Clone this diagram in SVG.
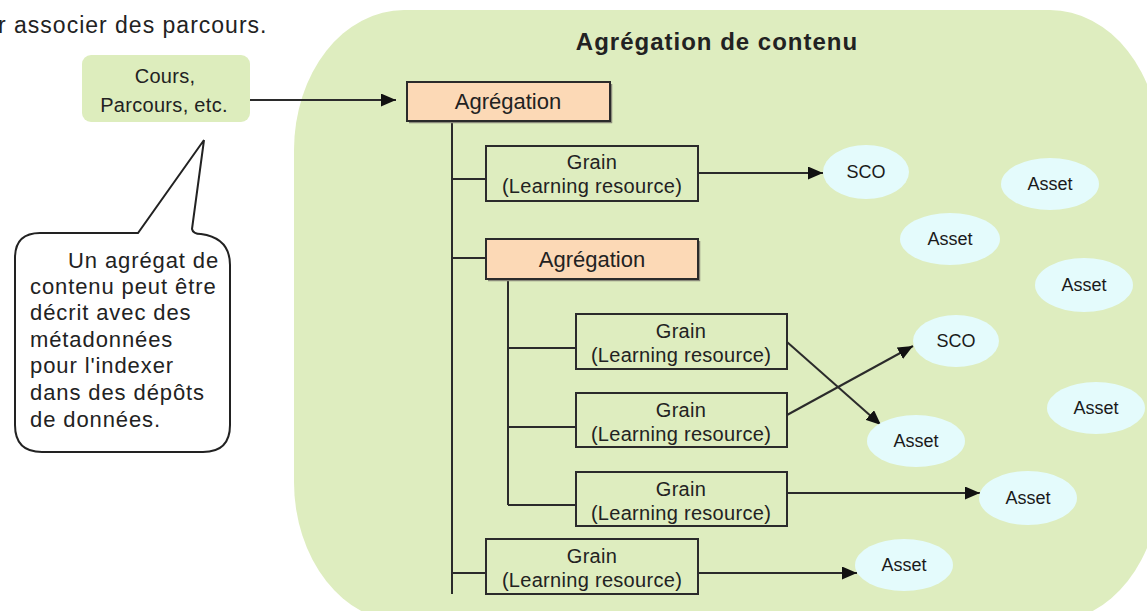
<svg xmlns="http://www.w3.org/2000/svg" width="1147" height="611" viewBox="0 0 1147 611">
<style>
.t{font-family:"Liberation Sans",Arial,sans-serif;fill:#222}
.g{font-size:20px;letter-spacing:0.3px;text-anchor:middle}
.a{font-size:22px;text-anchor:middle}
.e{font-size:18px;text-anchor:middle;fill:#1a1a1a}
.box{fill:none;stroke:#2b2b2b;stroke-width:2}
.agg{fill:#FCD9B6;stroke:#2b2b2b;stroke-width:2}
.sh{fill:none;stroke:#8a8a7a;stroke-width:1.5}
.ell{fill:#E4FBFC}
.ln{stroke:#2b2b2b;stroke-width:2;fill:none}
.b{font-size:22px;letter-spacing:0.9px}
</style>
<defs>
<marker id="arr" markerUnits="userSpaceOnUse" markerWidth="15" markerHeight="13" refX="15" refY="6.5" orient="auto">
<path d="M0,0 L15,6.5 L0,13 Z" fill="#111"/>
</marker>
</defs>
<rect width="1147" height="611" fill="#fff"/>
<text class="t" x="-2" y="33" font-size="23" letter-spacing="1">r associer des parcours.</text>

<g id="container">
<rect x="294" y="10" width="866" height="612" rx="110" ry="140" fill="#DEEDBF"/>
<text class="t" x="717" y="50" font-size="24" font-weight="bold" letter-spacing="1" text-anchor="middle">Agrégation de contenu</text>
</g>

<g id="cours">
<rect x="82" y="55" width="168" height="67" rx="9" fill="#DDEDBD"/>
<text class="t g" x="165" y="83" letter-spacing="0.8">Cours,</text>
<text class="t g" x="164" y="112" letter-spacing="0.8">Parcours, etc.</text>
</g>

<g id="callout">
<path d="M40,233 L138,233 L204,140 L192,229 Q193,234 201,234 Q230,238 230,265 L230,425 Q230,452 203,452 L42,452 Q15,452 15,425 L15,258 Q15,233 40,233 Z" fill="#fff" stroke="#222" stroke-width="2"/>
<text class="t b" x="68" y="268">Un agrégat de</text>
<text class="t b" x="30" y="294">contenu peut être</text>
<text class="t b" x="30" y="320">décrit avec des</text>
<text class="t b" x="30" y="347">métadonnées</text>
<text class="t b" x="30" y="373">pour l'indexer</text>
<text class="t b" x="30" y="400">dans des dépôts</text>
<text class="t b" x="30" y="427">de données.</text>
</g>

<g id="connectors">
<path class="ln" d="M250,100 L396,100" marker-end="url(#arr)"/>
<path class="ln" d="M452,121 V594 M452,179 H486 M452,258 H486 M452,573 H486"/>
<path class="ln" d="M508,279 V505 M508,348 H576 M508,427 H576 M508,505 H576"/>
<path class="ln" d="M698,173 L823,173" marker-end="url(#arr)"/>
<path class="ln" d="M787,342 L881,425" marker-end="url(#arr)"/>
<path class="ln" d="M787,415 L913,346" marker-end="url(#arr)"/>
<path class="ln" d="M787,493 L980,493" marker-end="url(#arr)"/>
<path class="ln" d="M698,573 L857,573" marker-end="url(#arr)"/>
</g>

<g id="agg1">
<path class="sh" d="M409,122.5 H611.5 V84"/>
<rect class="agg" x="407" y="82" width="203" height="39"/>
<text class="t a" x="508" y="109">Agrégation</text>
</g>
<g id="grain1">
<rect class="box" x="486" y="146" width="212" height="55"/>
<text class="t g" x="592" y="169">Grain</text>
<text class="t g" x="592" y="193">(Learning resource)</text>
</g>
<g id="agg2">
<path class="sh" d="M488,280.5 H699.5 V241"/>
<rect class="agg" x="486" y="239" width="212" height="40"/>
<text class="t a" x="592" y="267">Agrégation</text>
</g>
<g id="grain2">
<rect class="box" x="576" y="314" width="211" height="55"/>
<text class="t g" x="681" y="338">Grain</text>
<text class="t g" x="681" y="362">(Learning resource)</text>
</g>
<g id="grain3">
<rect class="box" x="576" y="393" width="211" height="54"/>
<text class="t g" x="681" y="417">Grain</text>
<text class="t g" x="681" y="441">(Learning resource)</text>
</g>
<g id="grain4">
<rect class="box" x="576" y="472" width="211" height="54"/>
<text class="t g" x="681" y="496">Grain</text>
<text class="t g" x="681" y="520">(Learning resource)</text>
</g>
<g id="grain5">
<rect class="box" x="486" y="539" width="212" height="55"/>
<text class="t g" x="592" y="563">Grain</text>
<text class="t g" x="592" y="587">(Learning resource)</text>
</g>

<g id="sco1"><ellipse class="ell" cx="866" cy="172" rx="43" ry="27"/><text class="t e" x="866" y="178">SCO</text></g>
<g id="asset1"><ellipse class="ell" cx="1050" cy="184" rx="49" ry="26"/><text class="t e" x="1050" y="190">Asset</text></g>
<g id="asset2"><ellipse class="ell" cx="950" cy="239" rx="50" ry="26"/><text class="t e" x="950" y="245">Asset</text></g>
<g id="asset3"><ellipse class="ell" cx="1084" cy="285" rx="49" ry="27"/><text class="t e" x="1084" y="291">Asset</text></g>
<g id="sco2"><ellipse class="ell" cx="956" cy="341" rx="43" ry="26"/><text class="t e" x="956" y="347">SCO</text></g>
<g id="asset4"><ellipse class="ell" cx="1096" cy="408" rx="49" ry="26"/><text class="t e" x="1096" y="414">Asset</text></g>
<g id="asset5"><ellipse class="ell" cx="916" cy="441" rx="49" ry="26"/><text class="t e" x="916" y="447">Asset</text></g>
<g id="asset6"><ellipse class="ell" cx="1028" cy="498" rx="49" ry="27"/><text class="t e" x="1028" y="504">Asset</text></g>
<g id="asset7"><ellipse class="ell" cx="904" cy="565" rx="49" ry="26"/><text class="t e" x="904" y="571">Asset</text></g>
</svg>
